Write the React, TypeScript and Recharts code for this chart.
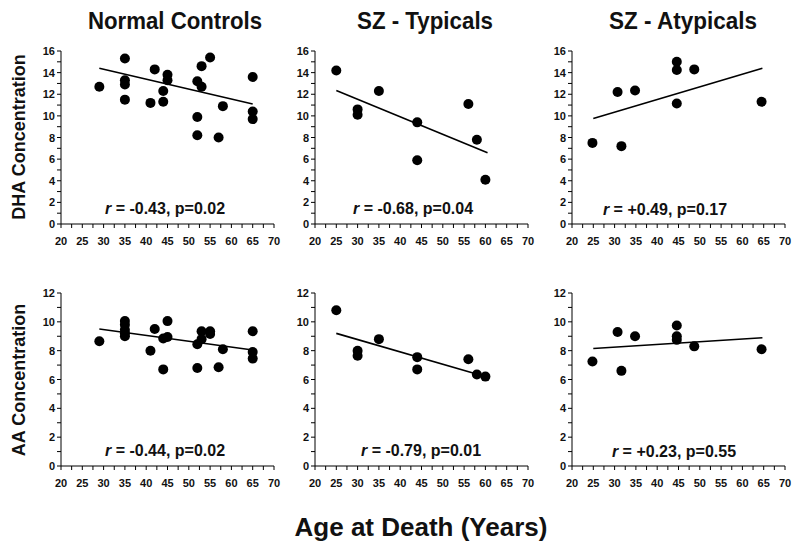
import React from "react"
import { ScatterChart, Scatter, XAxis, YAxis } from "recharts"

// axis ticks (labels shown on every other tick)
const ageTicks = [20, 22.5, 25, 27.5, 30, 32.5, 35, 37.5, 40, 42.5, 45, 47.5, 50, 52.5, 55, 57.5, 60, 62.5, 65, 67.5, 70]
const dhaTicks = [0, 1, 2, 3, 4, 5, 6, 7, 8, 9, 10, 11, 12, 13, 14, 15, 16]
const aaTicks = [0, 1, 2, 3, 4, 5, 6, 7, 8, 9, 10, 11, 12]

// Normal controls
const ncDhaAge = [29, 35, 35, 35, 35, 41, 42, 44, 44, 45, 45, 52, 52, 52, 53, 53, 55, 57, 58, 65, 65, 65]
const ncDha = [12.7, 15.3, 13.3, 12.9, 11.5, 11.2, 14.3, 12.3, 11.3, 13.8, 13.3, 13.2, 9.9, 8.2, 14.6, 12.7, 15.4, 8.0, 10.9, 13.6, 10.4, 9.7]
const ncDhaFitAge = [29, 65]
const ncDhaFit = [14.4, 11.1]
const ncAaAge = [29, 35, 35, 35, 35, 35, 41, 42, 44, 44, 45, 45, 52, 52, 53, 53, 55, 55, 57, 58, 65, 65, 65]
const ncAa = [8.65, 10.05, 9.8, 9.45, 9.2, 9.0, 8.0, 9.5, 8.85, 6.7, 10.05, 8.95, 8.45, 6.8, 9.35, 8.8, 9.35, 9.15, 6.85, 8.1, 9.35, 7.9, 7.45]
const ncAaFitAge = [29, 65]
const ncAaFit = [9.5, 8.05]

// SZ - typicals
const typAge = [25, 30, 30, 35, 44, 44, 56, 58, 60]
const typDha = [14.2, 10.6, 10.1, 12.3, 9.4, 5.9, 11.1, 7.8, 4.1]
const typDhaFitAge = [25, 60.5]
const typDhaFit = [12.35, 6.6]
const typAa = [10.8, 8.0, 7.65, 8.8, 7.55, 6.7, 7.4, 6.35, 6.2]
const typAaFitAge = [25, 58.3]
const typAaFit = [9.2, 6.35]

// SZ - atypicals
const atyAge = [24.8, 30.7, 31.6, 34.8, 44.6, 44.6, 44.6, 48.7, 64.5]
const atyDha = [7.5, 12.2, 7.2, 12.35, 15.0, 14.25, 11.15, 14.3, 11.3]
const atyDhaFitAge = [25, 64.7]
const atyDhaFit = [9.75, 14.4]
const atyAa = [7.25, 9.3, 6.6, 9.0, 9.75, 9.0, 8.75, 8.3, 8.1]
const atyAaFitAge = [25, 64.7]
const atyAaFit = [8.15, 8.9]

const titles = ["Normal Controls", "SZ - Typicals", "SZ - Atypicals"]
const stats = ["-0.43, p=0.02", "-0.68, p=0.04", "+0.49, p=0.17", "-0.44, p=0.02", "-0.79, p=0.01", "+0.23, p=0.55"]

const PLOT_W = 213
const PLOT_H = 173
const Y_W = 34
const M_TOP = 6
const M_RIGHT = 12
const X_H = 28
const cols = [61, 315, 572]
const rows = [51, 293]
const font = "Liberation Sans, Arial, sans-serif"

const pair = (xs: number[], ys: number[]) => xs.map((x, i) => ({ age: x, value: ys[i] }))

const AgeTick = (props: any) => {
  const { x, y, payload } = props
  if (payload.value % 5 !== 0) return <g />
  return (
    <text x={x} y={y} dy={15} textAnchor="middle" fontSize={11} fontWeight="bold" fontFamily={font} fill="#111">
      {payload.value}
    </text>
  )
}

const ValueTick = (props: any) => {
  const { x, y, payload } = props
  if (payload.value % 2 !== 0) return <g />
  return (
    <text x={x} y={y} dy={4} textAnchor="end" fontSize={11} fontWeight="bold" fontFamily={font} fill="#111">
      {payload.value}
    </text>
  )
}

const Dot = (props: any) => <circle cx={props.cx} cy={props.cy} r={5} fill="#000" />

function Panel({ left, top, ages, values, fitAges, fitValues, yTicks }: {
  left: number
  top: number
  ages: number[]
  values: number[]
  fitAges: number[]
  fitValues: number[]
  yTicks: number[]
}) {
  return (
    <div style={{ position: "absolute", left: left - Y_W, top: top - M_TOP }}>
      <ScatterChart
        width={Y_W + PLOT_W + M_RIGHT}
        height={M_TOP + PLOT_H + X_H}
        margin={{ top: M_TOP, right: M_RIGHT, left: 0, bottom: 0 }}
      >
        <XAxis
          type="number"
          dataKey="age"
          domain={[20, 70]}
          ticks={ageTicks}
          interval={0}
          tick={AgeTick}
          tickSize={4}
          tickMargin={2}
          height={X_H}
          stroke="#000"
          allowDataOverflow
        />
        <YAxis
          type="number"
          dataKey="value"
          domain={[0, yTicks[yTicks.length - 1]]}
          ticks={yTicks}
          interval={0}
          tick={ValueTick}
          tickSize={4}
          tickMargin={2}
          width={Y_W}
          stroke="#000"
          allowDataOverflow
        />
        <Scatter data={pair(ages, values)} shape={Dot} isAnimationActive={false} />
        <Scatter
          data={pair(fitAges, fitValues)}
          line={{ stroke: "#000", strokeWidth: 1.6 }}
          shape={() => <g />}
          isAnimationActive={false}
        />
      </ScatterChart>
    </div>
  )
}

export default function App() {
  const statPos = [
    [165, 214], [413, 214], [665, 215],
    [165, 456], [421, 456], [674, 457],
  ]
  const titleX = [175, 425, 683]
  const titleW = [174, 136, 148]
  return (
    <div style={{ position: "absolute", left: 0, top: 0, width: 800, height: 546, background: "#fff" }}>
      <Panel left={cols[0]} top={rows[0]} ages={ncDhaAge} values={ncDha} fitAges={ncDhaFitAge} fitValues={ncDhaFit} yTicks={dhaTicks} />
      <Panel left={cols[1]} top={rows[0]} ages={typAge} values={typDha} fitAges={typDhaFitAge} fitValues={typDhaFit} yTicks={dhaTicks} />
      <Panel left={cols[2]} top={rows[0]} ages={atyAge} values={atyDha} fitAges={atyDhaFitAge} fitValues={atyDhaFit} yTicks={dhaTicks} />
      <Panel left={cols[0]} top={rows[1]} ages={ncAaAge} values={ncAa} fitAges={ncAaFitAge} fitValues={ncAaFit} yTicks={aaTicks} />
      <Panel left={cols[1]} top={rows[1]} ages={typAge} values={typAa} fitAges={typAaFitAge} fitValues={typAaFit} yTicks={aaTicks} />
      <Panel left={cols[2]} top={rows[1]} ages={atyAge} values={atyAa} fitAges={atyAaFitAge} fitValues={atyAaFit} yTicks={aaTicks} />

      <svg width={800} height={546} style={{ position: "absolute", left: 0, top: 0, pointerEvents: "none" }}>
        {titles.map((t, i) => (
          <text key={t} x={titleX[i] - titleW[i] / 2} y={29} textLength={titleW[i]} lengthAdjust="spacingAndGlyphs"
            fontSize={24} fontWeight="bold" fontFamily={font} fill="#111">
            {t}
          </text>
        ))}
        {stats.map((s, i) => (
          <text key={i} x={statPos[i][0]} y={statPos[i][1]} textAnchor="middle" fontSize={16} fontWeight="bold" fontFamily={font} fill="#111">
            <tspan fontStyle="italic">r</tspan> = {s}
          </text>
        ))}
        <text transform="translate(25,137) rotate(-90)" textAnchor="middle" fontSize={18} fontWeight="bold" fontFamily={font} fill="#111">
          DHA Concentration
        </text>
        <text transform="translate(25,380) rotate(-90)" textAnchor="middle" fontSize={18} fontWeight="bold" fontFamily={font} fill="#111">
          AA Concentration
        </text>
        <text x={421} y={536} textAnchor="middle" fontSize={26} fontWeight="bold" fontFamily={font} fill="#111">
          Age at Death (Years)
        </text>
      </svg>
    </div>
  )
}
